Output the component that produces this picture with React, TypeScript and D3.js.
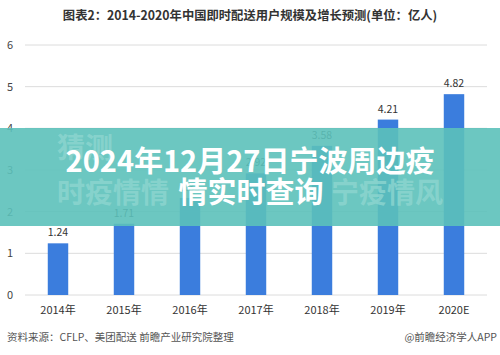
import React from "react";
import * as d3 from "d3";

const categories = ["2014年", "2015年", "2016年", "2017年", "2018年", "2019年", "2020E"];
const values = [1.24, 1.71, 2.33, 2.92, 3.58, 4.21, 4.82];
const yTicks = [0, 1, 2, 3, 4, 5, 6];
const chartTitle = "图表2：2014-2020年中国即时配送用户规模及增长预测(单位：亿人)";
const sourceText = "资料来源：CFLP、美团配送 前瞻产业研究院整理";
const creditText = "@前瞻经济学人APP";
const overlayLine1 = "2024年12月27日宁波周边疫";
const overlayLine2 = "情实时查询";
const ghostLeft = "时疫情情";
const ghostRight = "宁疫情风";
const ghostTop = "猜测";

const W = 500;
const H = 355;
const font = "'Noto Sans CJK SC', 'Noto Sans', sans-serif";

export default function App() {
  const x = d3.scaleBand<string>().domain(categories).range([25, 487]).paddingInner(0.69).paddingOuter(0.345);
  const y = d3.scaleLinear().domain([0, 6]).range([295, 45]);

  return (
    <svg
      width={W}
      height={H}
      style={{ position: "absolute", left: 0, top: 0, background: "#fff" }}
      fontFamily={font}
    >
      <rect x={0} y={0} width={W} height={H} fill="#fff" />
      <text x={250} y={20} textAnchor="middle" fontSize={12.3} fontWeight="bold" fill="#333">
        {chartTitle}
      </text>
      {yTicks.map((t) => (
        <g key={t}>
          <line x1={25} x2={487} y1={y(t)} y2={y(t)} stroke="#dcdcdc" strokeWidth={1} />
          <text x={10} y={y(t) + 4} textAnchor="middle" fontSize={11} fill="#444">
            {t}
          </text>
        </g>
      ))}
      {categories.map((c, i) => (
        <g key={c}>
          <rect x={x(c)} y={y(values[i])} width={x.bandwidth()} height={295 - y(values[i])} fill="#3b7ddd" />
          <text x={(x(c) as number) + x.bandwidth() / 2} y={y(values[i]) - 7} textAnchor="middle" fontSize={10.5} fill="#333">
            {values[i].toFixed(2)}
          </text>
          <text x={(x(c) as number) + x.bandwidth() / 2} y={314} textAnchor="middle" fontSize={11} fill="#333">
            {c}
          </text>
        </g>
      ))}
      <text x={7} y={341} fontSize={10.5} fill="#555">
        {sourceText}
      </text>
      <text x={497} y={341} textAnchor="end" fontSize={10.5} fill="#555">
        {creditText}
      </text>
      <rect x={0} y={128} width={W} height={98} fill="rgb(92,193,186)" fillOpacity={0.9} />
      <text x={57} y={158} fontSize={28} fontWeight="bold" fill="#8ed6d0" fillOpacity={0.8}>
        {ghostTop}
      </text>
      <text x={57} y={203} fontSize={28} fontWeight="bold" fill="#8ed6d0" fillOpacity={0.8}>
        {ghostLeft}
      </text>
      <text x={443} y={203} textAnchor="end" fontSize={28} fontWeight="bold" fill="#8ed6d0" fillOpacity={0.8}>
        {ghostRight}
      </text>
      <text x={250} y={172} textAnchor="middle" fontSize={29} fontWeight="bold" fill="#fff">
        {overlayLine1}
      </text>
      <text x={251} y={203} textAnchor="middle" fontSize={29} fontWeight="bold" fill="#fff">
        {overlayLine2}
      </text>
    </svg>
  );
}
